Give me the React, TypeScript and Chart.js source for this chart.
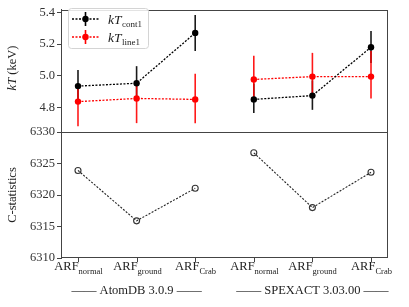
import React, { useEffect, useRef } from "react";
import { Chart, registerables } from "chart.js";
Chart.register(...registerables);

const SUBS = ["normal", "ground", "Crab", "normal", "ground", "Crab"];
const GROUPS = ["AtomDB 3.0.9", "SPEXACT 3.03.00"];
const GROUP_SIZE = 3;

const KT_CONT = [4.934, 4.952, 5.27, 4.85, 4.874, 5.18];
const KT_CONT_LO = [4.84, 4.85, 5.156, 4.764, 4.784, 5.08];
const KT_CONT_HI = [5.036, 5.06, 5.384, 4.95, 4.97, 5.282];
const KT_LINE = [4.836, 4.856, 4.85, 4.976, 4.994, 4.994];
const KT_LINE_LO = [4.68, 4.7, 4.7, 4.85, 4.875, 4.855];
const KT_LINE_HI = [4.93, 4.95, 5.012, 5.126, 5.144, 5.156];
const CSTAT = [6323.9, 6315.9, 6321.06, 6326.7, 6318.0, 6323.6];

const KT_TICKS = [4.8, 5.0, 5.2, 5.4];
const CSTAT_TICKS = [6310, 6315, 6320, 6325, 6330];
const KT_RANGE = [4.644, 5.418];
const CSTAT_RANGE = [6310, 6330];

const FONT = "'Liberation Serif', 'DejaVu Serif', serif";
const AXIS = "#444";
const W = 409, H = 307;
const LEFT = 61, RIGHT_PAD = W - 388;
const TOP1 = 3, MID = 132, BOT = 258;

function withGaps(vals: number[]) {
  const out: any[] = [];
  vals.forEach((v, i) => {
    if (i > 0 && i % GROUP_SIZE === 0) out.push({ x: i - 0.5, y: null });
    out.push({ x: i, y: v });
  });
  return out;
}

function frame(chart: any) {
  const { ctx, chartArea: a } = chart;
  ctx.save();
  ctx.strokeStyle = AXIS;
  ctx.lineWidth = 1;
  ctx.strokeRect(Math.round(a.left) + 0.5, Math.round(a.top) + 0.5, Math.round(a.right - a.left) - 1, Math.round(a.bottom - a.top) - 1);
  ctx.restore();
}

function yTitle(ctx: CanvasRenderingContext2D, parts: { t: string; italic?: boolean }[], x: number, cy: number) {
  ctx.save();
  ctx.translate(x, cy);
  ctx.rotate(-Math.PI / 2);
  ctx.fillStyle = "#222";
  ctx.textBaseline = "middle";
  let total = 0;
  const widths = parts.map((p) => {
    ctx.font = `${p.italic ? "italic " : ""}12.5px ${FONT}`;
    const w = ctx.measureText(p.t).width;
    total += w;
    return w;
  });
  let cx = -total / 2;
  parts.forEach((p, i) => {
    ctx.font = `${p.italic ? "italic " : ""}12.5px ${FONT}`;
    ctx.fillText(p.t, cx, 0);
    cx += widths[i];
  });
  ctx.restore();
}

function yScale(range: number[], ticks: number[], fmt: (v: number) => string) {
  return {
    type: "linear",
    position: "left",
    min: range[0],
    max: range[1],
    afterBuildTicks: (s: any) => {
      s.ticks = ticks.map((v) => ({ value: v }));
    },
    afterFit: (s: any) => {
      s.width = LEFT;
    },
    ticks: { font: { family: FONT, size: 12.5 }, color: "#333", padding: 2, callback: (v: any) => fmt(Number(v)) },
    grid: { drawOnChartArea: false, drawTicks: true, tickLength: 4, color: AXIS },
    border: { display: true, color: AXIS },
  };
}

const xScale = { type: "linear", min: -0.29, max: 5.29, display: false };

function drawErr(chart: any, vals: number[], lo: number[], hi: number[], color: string) {
  const { ctx } = chart;
  const xs = chart.scales.x, ys = chart.scales.y;
  ctx.save();
  ctx.strokeStyle = color;
  ctx.lineWidth = 1.6;
  vals.forEach((_, i) => {
    const px = xs.getPixelForValue(i);
    ctx.beginPath();
    ctx.moveTo(px, ys.getPixelForValue(lo[i]));
    ctx.lineTo(px, ys.getPixelForValue(hi[i]));
    ctx.stroke();
  });
  ctx.restore();
}

function legendEntry(ctx: CanvasRenderingContext2D, y: number, color: string, sub: string) {
  ctx.save();
  ctx.strokeStyle = color;
  ctx.lineWidth = 1.3;
  ctx.setLineDash([2, 1.5]);
  ctx.beginPath();
  ctx.moveTo(72, y);
  ctx.lineTo(99, y);
  ctx.stroke();
  ctx.setLineDash([]);
  ctx.lineWidth = 1.6;
  ctx.beginPath();
  ctx.moveTo(85.5, y - 7);
  ctx.lineTo(85.5, y + 7);
  ctx.stroke();
  ctx.fillStyle = color;
  ctx.beginPath();
  ctx.arc(85.5, y, 3.2, 0, Math.PI * 2);
  ctx.fill();
  ctx.fillStyle = "#222";
  ctx.textBaseline = "alphabetic";
  ctx.font = `italic 13.5px ${FONT}`;
  ctx.fillText("kT", 108, y + 4.5);
  const w = ctx.measureText("kT").width;
  ctx.font = `9px ${FONT}`;
  ctx.fillText(sub, 108 + w + 0.5, y + 7.5);
  ctx.restore();
}

const topPlugin = {
  id: "topDeco",
  beforeDatasetsDraw(chart: any) {
    drawErr(chart, KT_CONT, KT_CONT_LO, KT_CONT_HI, "#1a1a1a");
    drawErr(chart, KT_LINE, KT_LINE_LO, KT_LINE_HI, "rgba(255,0,0,0.9)");
  },
  afterDraw(chart: any) {
    const { ctx } = chart;
    frame(chart);
    ctx.save();
    ctx.fillStyle = "rgba(255,255,255,0.85)";
    ctx.strokeStyle = "#d4d4d4";
    ctx.lineWidth = 1;
    ctx.beginPath();
    (ctx as any).roundRect(68.5, 8.5, 80, 40, 3);
    ctx.fill();
    ctx.stroke();
    ctx.restore();
    legendEntry(ctx, 19, "#000", "cont1");
    legendEntry(ctx, 37, "#ff0000", "line1");
    yTitle(ctx, [{ t: "kT", italic: true }, { t: " (keV)" }], 13, 68);
  },
};

const bottomPlugin = {
  id: "bottomDeco",
  afterDraw(chart: any) {
    const { ctx, chartArea: a } = chart;
    const xs = chart.scales.x;
    frame(chart);
    ctx.save();
    ctx.strokeStyle = AXIS;
    ctx.lineWidth = 1;
    ctx.fillStyle = "#222";
    ctx.textBaseline = "alphabetic";
    SUBS.forEach((sub, i) => {
      const px = Math.round(xs.getPixelForValue(i)) + 0.5;
      ctx.beginPath();
      ctx.moveTo(px, a.bottom);
      ctx.lineTo(px, a.bottom + 4);
      ctx.stroke();
      ctx.font = `12.5px ${FONT}`;
      const w1 = ctx.measureText("ARF").width;
      ctx.font = `8.5px ${FONT}`;
      const w2 = ctx.measureText(sub).width;
      const x0 = px - (w1 + w2) / 2;
      ctx.font = `12.5px ${FONT}`;
      ctx.fillText("ARF", x0, 270);
      ctx.font = `8.5px ${FONT}`;
      ctx.fillText(sub, x0 + w1, 274);
    });
    ctx.font = `12.5px ${FONT}`;
    ctx.textAlign = "center";
    GROUPS.forEach((g, gi) => {
      const c = (xs.getPixelForValue(gi * GROUP_SIZE) + xs.getPixelForValue(gi * GROUP_SIZE + GROUP_SIZE - 1)) / 2;
      ctx.fillText(`—— ${g} ——`, c, 294);
    });
    ctx.restore();
    yTitle(ctx, [{ t: "C-statistics" }], 13, 195);
  },
};

export default function App() {
  const topRef = useRef<HTMLCanvasElement>(null);
  const botRef = useRef<HTMLCanvasElement>(null);

  useEffect(() => {
    Chart.defaults.font.family = FONT;
    const lineDs = (label: string, vals: number[], color: string) => ({
      label,
      data: withGaps(vals),
      borderColor: color,
      backgroundColor: color,
      borderWidth: 1.3,
      borderDash: [2, 1.5],
      pointRadius: 3.2,
      pointBackgroundColor: color,
      pointBorderColor: color,
      pointBorderWidth: 0,
      spanGaps: false,
      tension: 0,
    });
    const top = new Chart(topRef.current as HTMLCanvasElement, {
      type: "line",
      data: {
        datasets: [lineDs("kT_cont1", KT_CONT, "#000"), lineDs("kT_line1", KT_LINE, "#ff0000")],
      },
      options: {
        responsive: false,
        animation: false,
        layout: { padding: { left: 0, right: RIGHT_PAD, top: TOP1, bottom: H - MID } },
        plugins: { legend: { display: false }, tooltip: { enabled: false } },
        scales: { x: xScale as any, y: yScale(KT_RANGE, KT_TICKS, (v) => v.toFixed(1)) as any },
      } as any,
      plugins: [topPlugin],
    });
    const bot = new Chart(botRef.current as HTMLCanvasElement, {
      type: "line",
      data: {
        datasets: [
          {
            label: "C-statistics",
            data: withGaps(CSTAT),
            borderColor: "#222",
            borderWidth: 1.1,
            borderDash: [2, 1.5],
            pointRadius: 3,
            pointBackgroundColor: "rgba(0,0,0,0)",
            pointBorderColor: "#333",
            pointBorderWidth: 1.1,
            spanGaps: false,
            tension: 0,
          } as any,
        ],
      },
      options: {
        responsive: false,
        animation: false,
        layout: { padding: { left: 0, right: RIGHT_PAD, top: MID, bottom: H - BOT } },
        plugins: { legend: { display: false }, tooltip: { enabled: false } },
        scales: { x: xScale as any, y: yScale(CSTAT_RANGE, CSTAT_TICKS, (v) => String(v)) as any },
      } as any,
      plugins: [bottomPlugin],
    });
    return () => {
      top.destroy();
      bot.destroy();
    };
  }, []);

  return (
    <div style={{ position: "fixed", left: 0, top: 0, width: W, height: H, background: "#fff" }}>
      <canvas ref={topRef} width={W} height={H} style={{ position: "absolute", left: 0, top: 0 }} />
      <canvas ref={botRef} width={W} height={H} style={{ position: "absolute", left: 0, top: 0 }} />
    </div>
  );
}
